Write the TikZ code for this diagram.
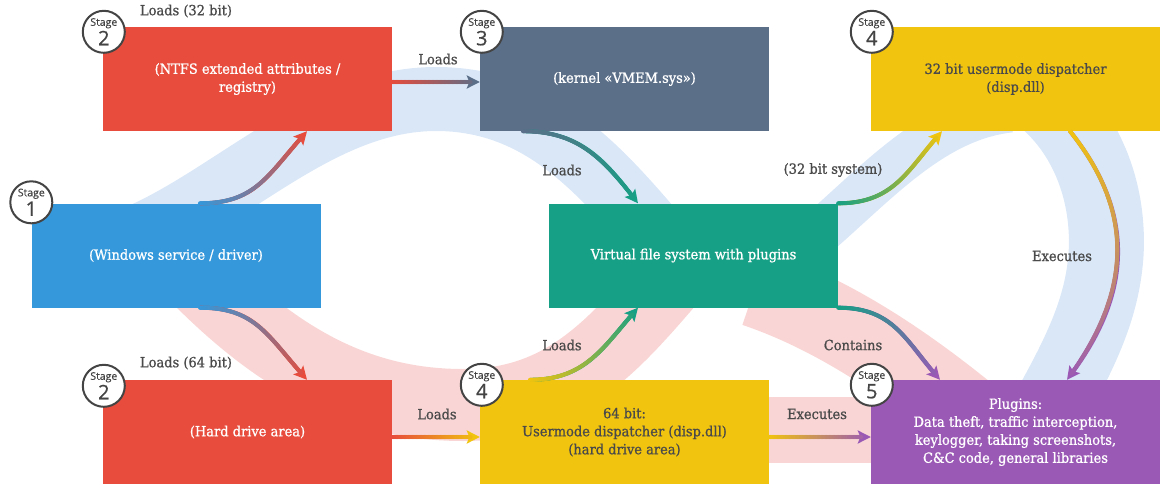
\documentclass[tikz,border=0pt]{standalone}
\usepackage{fontspec}
\setmainfont{DejaVu Serif}[FakeStretch=0.93,FakeBold=0.9]
\newfontfamily\stagefont{Open Sans}[FakeBold=0.6]
\usetikzlibrary{arrows.meta,decorations.markings,calc}
\definecolor{cRed}{HTML}{E74C3C}
\definecolor{cSlate}{HTML}{5B6F89}
\definecolor{cYel}{HTML}{F1C40F}
\definecolor{cBlue}{HTML}{3498DB}
\definecolor{cGreen}{HTML}{16A085}
\definecolor{cPurp}{HTML}{9B59B6}
\definecolor{cBandB}{HTML}{D9E7F7}
\definecolor{cBandP}{HTML}{F9D6D5}
\definecolor{cTxt}{HTML}{4A4A4A}
\definecolor{cRing}{HTML}{444444}
\tikzset{
  box/.style={minimum width=289pt,minimum height=104pt,inner sep=0pt,align=center,
    font=\fontsize{14}{18}\selectfont},
  lbl/.style={text=cTxt,inner sep=0pt,font=\fontsize{14}{18}\selectfont},
  stagec/.style={circle,draw=cRing,line width=2pt,fill=white,minimum size=42pt,inner sep=0pt},
  stagew/.style={anchor=base,inner sep=0pt,text=cRing,text depth=0pt,font=\stagefont\fontsize{10.5}{10.5}\selectfont},
  stagen/.style={anchor=base,inner sep=0pt,text=cRing,text depth=0pt,text height=14pt,font=\stagefont\fontsize{20}{20}\selectfont},
  bandb/.style={draw=cBandB,line cap=butt},
  bandp/.style={draw=cBandP,line cap=butt},
  conn/.style={line width=4pt,-{Stealth[length=13pt,width=13pt,inset=2.5pt]}},
  gradc/.style 2 args={draw=#2,postaction={draw=none,decorate,decoration={markings,
    mark=between positions 0 and -9pt step 0.8pt with {
      \pgfmathsetmacro\gq{\pgfkeysvalueof{/pgf/decoration/mark info/distance from start}/\pgfdecoratedpathlength}
      \pgfmathtruncatemacro\gp{100*\gq}
      \fill[#2!\gp!#1] (0,0) circle (2.05pt);
    }}}},
}
\newcommand{\stagebadge}[3]{%
  \node[stagec] (#1) at #2 {};
  \node[stagew] (#1w) at ($(#1.center)+(0,-6)$) {Stage};
  \node[stagen] (#1n) at ($(#1.center)+(0,13.5)$) {#3};
}
\begin{document}
\begin{tikzpicture}[x=1pt,y=-1pt]
\useasboundingbox (0,0) rectangle (1170,503);
% background bands
\draw[bandb, line width=64] (130,240) .. controls (230,200) and (320,99) .. (436,99) .. controls (540,99) and (600,170) .. (660,240);
\draw[bandb, line width=45] (780,265) .. controls (860,205) and (920,120) .. (1010,110);
\draw[bandb, line width=75] (1040,95) .. controls (1085,130) and (1110,190) .. (1106,255) .. controls (1102,310) and (1080,355) .. (1040,425);
\draw[bandp, line width=72] (200,280) .. controls (280,360) and (360,405) .. (463,405) .. controls (560,405) and (610,350) .. (670,280);
\draw[bandp, line width=78] (755,288) .. controls (820,310) and (890,350) .. (975,420);
\draw[bandp, line width=66] (760,430) -- (880,430);
% boxes
\node[box, fill=cRed, text=white] (ntfs) at (247.5,79) {(NTFS extended attributes /\\registry)};
\node[box, fill=cSlate, text=white] (kern) at (624.5,79) {(kernel «VMEM.sys»)};
\node[box, fill=cYel, text=cTxt] (d32) at (1015.5,79) {32 bit usermode dispatcher\\(disp.dll)};
\node[box, fill=cBlue, text=white] (win) at (176,255.5) {(Windows service / driver)};
\node[box, fill=cGreen, text=white] (vfs) at (693.5,255.5) {Virtual file system with plugins};
\node[box, fill=cRed, text=white] (hd) at (247.5,432) {(Hard drive area)};
\node[box, fill=cYel, text=cTxt] (d64) at (624.5,432) {64 bit:\\Usermode dispatcher (disp.dll)\\(hard drive area)};
\node[box, fill=cPurp, text=white] (plug) at (1015.5,432) {Plugins:\\Data theft, traffic interception,\\keylogger, taking screenshots,\\C\&C code, general libraries};
% connectors
\draw[conn, gradc={cBlue}{cRed}] ($(win.north)+(24,0)$) .. controls +(55,0) and +(-40,45) .. ($(ntfs.south)+(59.5,0)$);
\draw[conn, gradc={cBlue}{cRed}] ($(win.south)+(24,0)$) .. controls +(55,0) and +(-40,-45) .. ($(hd.north)+(59.5,0)$);
\draw[conn, gradc={cRed}{cSlate}] ($(ntfs.east)+(0,3)$) -- ($(kern.west)+(0,3)$);
\draw[conn, gradc={cSlate}{cGreen}] ($(kern.south)+(-101.5,0)$) .. controls +(55,0) and +(-35,-45) .. ($(vfs.north)+(-55.5,0)$);
\draw[conn, gradc={cGreen}{cYel}] (vfs.north east) .. controls +(55,0) and +(-35,40) .. ($(d32.south)+(-73.5,0)$);
\draw[conn, gradc={cYel}{cPurp}] ($(d32.south)+(54.5,0)$) .. controls +(60,75) and +(70,-95) .. ($(plug.north)+(51.5,0)$);
\draw[conn, gradc={cGreen}{cPurp}] (vfs.south east) .. controls +(55,0) and +(-35,-40) .. ($(plug.north)+(-75.5,0)$);
\draw[conn, gradc={cRed}{cYel}] ($(hd.east)+(0,5)$) -- ($(d64.west)+(0,5)$);
\draw[conn, gradc={cYel}{cGreen}] ($(d64.north)+(-94.5,0)$) .. controls +(55,0) and +(-35,40) .. ($(vfs.south)+(-55.5,0)$);
\draw[conn, gradc={cYel}{cPurp}] ($(d64.east)+(0,5)$) -- ($(plug.west)+(0,5)$);
% labels
\node[lbl] (la) at (186,11) {Loads (32 bit)};
\node[lbl] (lb) at (438,59) {Loads};
\node[lbl] (lc) at (562,170) {Loads};
\node[lbl] (ld) at (833,170) {(32 bit system)};
\node[lbl] (le) at (1062,256) {Executes};
\node[lbl] (lf) at (853,345) {Contains};
\node[lbl] (lg) at (562,345) {Loads};
\node[lbl] (lh) at (437,414) {Loads};
\node[lbl] (li) at (817,414) {Executes};
\node[lbl] (lj) at (186,363) {Loads (64 bit)};
% stage badges
\stagebadge{s1}{($(win.north west)+(0,-1)$)}{1}
\stagebadge{s2a}{($(ntfs.north west)+(1,5)$)}{2}
\stagebadge{s3}{($(kern.north west)+(2,5)$)}{3}
\stagebadge{s4a}{($(d32.north west)+(1,5)$)}{4}
\stagebadge{s2b}{($(hd.north west)+(1,6)$)}{2}
\stagebadge{s4b}{($(d64.north west)+(2,5)$)}{4}
\stagebadge{s5}{($(plug.north west)+(1,5)$)}{5}
\end{tikzpicture}
\end{document}
